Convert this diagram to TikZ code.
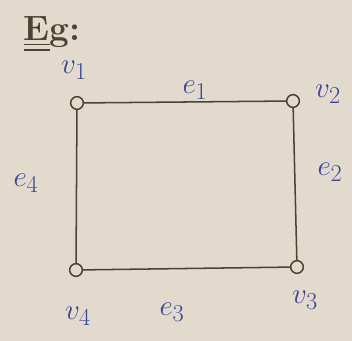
\documentclass[tikz,border=0pt]{standalone}
\usepackage{amsmath}
\usetikzlibrary{positioning}
\definecolor{paper}{RGB}{226,218,204}
\definecolor{pencil}{RGB}{80,66,50}
\definecolor{inkblue}{RGB}{58,70,150}
\tikzset{
  vertex/.style={circle, draw=pencil, line width=1.3pt, inner sep=0pt, minimum size=0.38cm},
  edge/.style={draw=pencil, line width=1.3pt},
  lbl/.style={text=inkblue, font=\fontsize{28}{32}\selectfont, inner sep=0pt}
}
\begin{document}
\begin{tikzpicture}[x=0.03cm, y=-0.03cm]
  % paper
  \fill[paper] (0,0) rectangle (352,341);
  \useasboundingbox (0,0) rectangle (352,341);
  % heading
  \node[text=pencil, font=\fontsize{30}{34}\selectfont\bfseries, inner sep=0pt] (eg) at (52,34) {\underline{\underline{E}}g:};
  % vertices
  \node[vertex] (v1) at (77,103) {};
  \node[vertex] (v2) at (293,101) {};
  \node[vertex] (v3) at (297,267) {};
  \node[vertex] (v4) at (76,270) {};
  % edges
  \draw[edge] (v1) -- (v2);
  \draw[edge] (v2) -- (v3);
  \draw[edge] (v3) -- (v4);
  \draw[edge] (v4) -- (v1);
  % labels
  \node[lbl] (l1) at (74,70) {$v_{1}$};
  \node[lbl] (l2) at (328,94) {$v_{2}$};
  \node[lbl] (l3) at (305,300) {$v_{3}$};
  \node[lbl] (l4) at (78,316) {$v_{4}$};
  \node[lbl] (e1) at (195,90) {$e_{1}$};
  \node[lbl] (e2) at (330,172) {$e_{2}$};
  \node[lbl] (e3) at (172,312) {$e_{3}$};
  \node[lbl] (e4) at (26,183) {$e_{4}$};
\end{tikzpicture}
\end{document}
